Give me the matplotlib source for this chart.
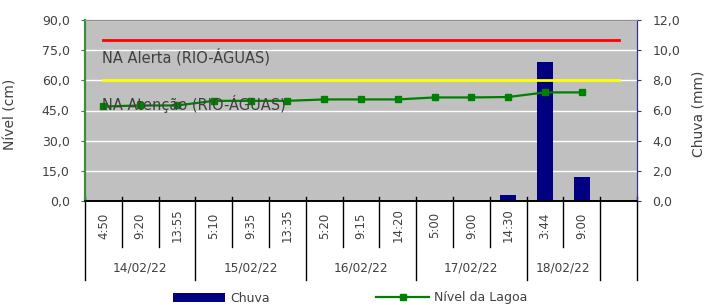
import matplotlib
matplotlib.use("Agg")
import matplotlib.pyplot as plt
from matplotlib.ticker import FuncFormatter
from matplotlib.lines import Line2D
from matplotlib.patches import Patch

# data
times = ["4:50", "9:20", "13:55", "5:10", "9:35", "13:35", "5:20", "9:15",
         "14:20", "5:00", "9:00", "14:30", "3:44", "9:00", ""]
dates = ["14/02/22", "15/02/22", "16/02/22", "17/02/22", "18/02/22", ""]
date_sizes = [3, 3, 3, 3, 2, 1]
chuva = [0, 0, 0, 0, 0, 0, 0, 0, 0, 0, 0, 0.4, 9.2, 1.6, 0]
nivel = [47.0, 47.5, 47.5, 49.8, 49.8, 49.8, 50.5, 50.5, 50.5, 51.5, 51.5,
         51.7, 54.0, 54.0, None]
na_alerta = 80.0
na_atencao = 60.0

TXT = "#404040"
plt.rcParams["font.family"] = ["DejaVu Sans"]
plt.rcParams["font.size"] = 9

fig = plt.figure(figsize=(7.06, 3.05), dpi=100)
ax_rain = fig.add_axes([85 / 706, 104 / 305, 552 / 706, 181 / 305])
ax_lvl = ax_rain.twinx()

n = len(times)
x = list(range(n))

ax_rain.set_facecolor("#c0c0c0")
ax_rain.bar(x, chuva, width=0.43, color="#000080", zorder=2)
ax_rain.set_ylim(0, 12)
ax_rain.set_yticks(range(0, 13, 2))
ax_rain.grid(axis="y", color="white", linewidth=1.0, zorder=0)
ax_rain.set_axisbelow(True)

ax_lvl.plot(x, [na_alerta] * n, color="#ff0000", linewidth=2)
ax_lvl.plot(x, [na_atencao] * n, color="#ffff00", linewidth=2)
xs = [i for i, v in zip(x, nivel) if v is not None]
ys = [v for v in nivel if v is not None]
ax_lvl.plot(xs, ys, color="#008000", linewidth=1.6, marker="s", markersize=4)
ax_lvl.set_ylim(0, 90)
ax_lvl.set_yticks(range(0, 91, 15))
ax_lvl.text(-0.05, 71.5, "NA Alerta (RIO-ÁGUAS)", fontsize=10.5, color=TXT,
            va="center", ha="left")
ax_lvl.text(-0.05, 48.2, "NA Atenção (RIO-ÁGUAS)", fontsize=10.5, color=TXT,
            va="center", ha="left")

ax_rain.set_xlim(-0.5, n - 0.5)
ax_rain.set_xticks([])

fmt = FuncFormatter(lambda v, p: f"{v:.1f}".replace(".", ","))
ax_lvl.yaxis.tick_left()
ax_lvl.yaxis.set_label_position("left")
ax_rain.yaxis.tick_right()
ax_rain.yaxis.set_label_position("right")
ax_lvl.yaxis.set_major_formatter(fmt)
ax_rain.yaxis.set_major_formatter(fmt)
ax_lvl.tick_params(axis="y", colors="#2e8b2e", labelcolor=TXT, length=3,
                   pad=8, labelsize=9)
ax_rain.tick_params(axis="y", colors="#303090", labelcolor=TXT, length=3,
                    pad=8, labelsize=9)

ax_lvl.set_ylabel("Nível (cm)", fontsize=10, color=TXT)
ax_rain.set_ylabel("Chuva (mm)", fontsize=10, color=TXT, rotation=90)
ax_lvl.yaxis.set_label_coords(-0.123, 0.48)
ax_rain.yaxis.set_label_coords(1.098, 0.48)

for a in (ax_rain, ax_lvl):
    a.spines["top"].set_color("#909090")
    a.spines["left"].set_color("#3c8c3c")
    a.spines["left"].set_linewidth(1.5)
    a.spines["right"].set_color("#303090")
    a.spines["bottom"].set_color("black")
    a.spines["bottom"].set_linewidth(1.2)

# multi-level category axis
tr = ax_rain.get_xaxis_transform()
short_len = 46 / 181
long_len = 79 / 181
bounds = [0]
for s in date_sizes:
    bounds.append(bounds[-1] + s)
for i in range(n + 1):
    xb = i - 0.5
    length = long_len if i in bounds else short_len
    ax_rain.plot([xb, xb], [0.02, -length], transform=tr, color="black",
                 linewidth=1.0, clip_on=False)
for i, t in enumerate(times):
    ax_rain.text(i, -0.135, t, transform=tr, rotation=90, ha="center",
                 va="center", fontsize=8.5, color=TXT)
for k, d in enumerate(dates):
    center = (bounds[k] + bounds[k + 1] - 1) / 2
    ax_rain.text(center, -0.37, d, transform=tr, ha="center", va="center",
                 fontsize=8.7, color=TXT)

handles = [Patch(facecolor="#000080"),
           Line2D([], [], color="#008000", linewidth=1.6, marker="s",
                  markersize=4)]
fig.legend(handles, ["Chuva", "Nível da Lagoa"], loc="center", ncol=2,
           bbox_to_anchor=(350 / 706, 7 / 305), frameon=False,
           handlelength=4.2, handletextpad=0.4, columnspacing=8.5,
           fontsize=9, labelcolor=TXT)

fig.savefig("out.png", dpi=100)
